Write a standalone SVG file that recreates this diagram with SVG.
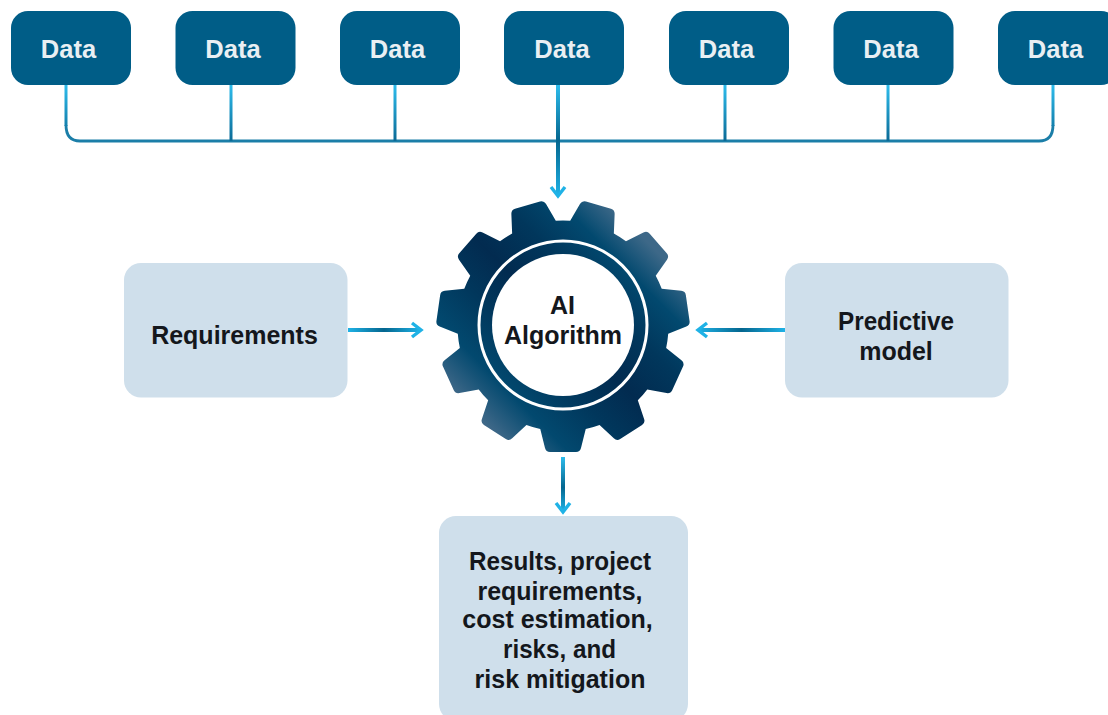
<svg xmlns="http://www.w3.org/2000/svg" xmlns:xlink="http://www.w3.org/1999/xlink" width="1108" height="715" viewBox="0 0 1108 715">
<style>
text{font-family:"Liberation Sans",Arial,sans-serif;font-weight:700;font-size:25px;text-anchor:middle;fill:#14171c}
.data rect{fill:#005d87}
.data text{fill:#e9eff3;font-size:25.500px}
.box{fill:#cfdfeb}
.v{fill:none;stroke-width:3}
.bus{fill:none;stroke:#1b7ea8;stroke-width:2.800}
.arrow{fill:none;stroke-width:4}
.head{fill:none;stroke:#1fb2e6;stroke-width:3.400}
</style>
<defs>
<linearGradient id="vg" gradientUnits="userSpaceOnUse" x1="0" y1="85" x2="0" y2="141"><stop offset="0" stop-color="#2dbcec"/><stop offset="1" stop-color="#0b6a96"/></linearGradient>
<linearGradient id="ca" gradientUnits="userSpaceOnUse" x1="0" y1="85" x2="0" y2="196"><stop offset="0" stop-color="#2dbcec"/><stop offset=".5" stop-color="#04668f"/><stop offset="1" stop-color="#1fb2e6"/></linearGradient>
<linearGradient id="da" gradientUnits="userSpaceOnUse" x1="0" y1="457" x2="0" y2="512"><stop offset="0" stop-color="#2dbcec"/><stop offset=".55" stop-color="#04668f"/><stop offset="1" stop-color="#1fb2e6"/></linearGradient>
<linearGradient id="la" gradientUnits="userSpaceOnUse" x1="348" y1="0" x2="420" y2="0"><stop offset="0" stop-color="#1fb2e6"/><stop offset=".5" stop-color="#04668f"/><stop offset="1" stop-color="#1fb2e6"/></linearGradient>
<linearGradient id="ra" gradientUnits="userSpaceOnUse" x1="785" y1="0" x2="698" y2="0"><stop offset="0" stop-color="#1fb2e6"/><stop offset=".5" stop-color="#04668f"/><stop offset="1" stop-color="#1fb2e6"/></linearGradient>
<linearGradient id="gear" gradientUnits="userSpaceOnUse" x1="463" y1="426" x2="663" y2="226">
<stop offset="0.06" stop-color="#3f6888"/><stop offset=".2" stop-color="#02496f"/><stop offset=".36" stop-color="#01375c"/><stop offset=".5" stop-color="#022b50"/><stop offset=".66" stop-color="#01375c"/><stop offset=".8" stop-color="#02496f"/><stop offset=".92" stop-color="#3d6888"/>
</linearGradient>
<path id="t" d="M-24 98L-18 122Q-17 126 -13 126L13 126Q17 126 18 122L24 98Z"/>
<clipPath id="gc">
<circle cx="563" cy="326" r="105.500"/>
<use xlink:href="#t" href="#t" transform="translate(563 326)"/>
<use xlink:href="#t" href="#t" transform="translate(563 326) rotate(32.727)"/>
<use xlink:href="#t" href="#t" transform="translate(563 326) rotate(65.455)"/>
<use xlink:href="#t" href="#t" transform="translate(563 326) rotate(98.182)"/>
<use xlink:href="#t" href="#t" transform="translate(563 326) rotate(130.909)"/>
<use xlink:href="#t" href="#t" transform="translate(563 326) rotate(163.636)"/>
<use xlink:href="#t" href="#t" transform="translate(563 326) rotate(196.364)"/>
<use xlink:href="#t" href="#t" transform="translate(563 326) rotate(229.091)"/>
<use xlink:href="#t" href="#t" transform="translate(563 326) rotate(261.818)"/>
<use xlink:href="#t" href="#t" transform="translate(563 326) rotate(294.545)"/>
<use xlink:href="#t" href="#t" transform="translate(563 326) rotate(327.273)"/>
</clipPath>
</defs>
<g id="connectors">
<path class="bus" d="M66 125Q66 141 80 141L1039 141Q1053 141 1053 125"/>
<path class="v" stroke="url(#vg)" d="M66 85V126M231 85V141M395 85V141M725 85V141M888 85V141M1053 85V126"/>
<path class="arrow" stroke="url(#ca)" d="M558 85V195"/>
<path class="head" d="M551 187L558 196L565 187"/>
<path class="arrow" stroke="url(#la)" d="M348 330H420"/>
<path class="head" d="M412 323L421 330L412 337"/>
<path class="arrow" stroke="url(#ra)" d="M785 330H699"/>
<path class="head" d="M707 323L698 330L707 337"/>
<path class="arrow" stroke="url(#da)" d="M563 457V511"/>
<path class="head" d="M556 503L563 512L570 503"/>
</g>
<g id="data1" class="data"><rect x="11" y="11" width="120" height="74" rx="17"/><text x="68.500" y="58">Data</text></g>
<g id="data2" class="data"><rect x="175.500" y="11" width="120" height="74" rx="17"/><text x="233" y="58">Data</text></g>
<g id="data3" class="data"><rect x="340" y="11" width="120" height="74" rx="17"/><text x="397.500" y="58">Data</text></g>
<g id="data4" class="data"><rect x="504" y="11" width="120" height="74" rx="17"/><text x="562" y="58">Data</text></g>
<g id="data5" class="data"><rect x="669" y="11" width="120" height="74" rx="17"/><text x="726.500" y="58">Data</text></g>
<g id="data6" class="data"><rect x="833.500" y="11" width="120" height="74" rx="17"/><text x="891" y="58">Data</text></g>
<g id="data7" class="data"><rect x="998" y="11" width="120" height="74" rx="17"/><text x="1055.500" y="58">Data</text></g>
<g id="requirements"><rect class="box" x="124" y="263" width="223.500" height="134.500" rx="17"/><text x="234.500" y="344">Requirements</text></g>
<g id="predictive"><rect class="box" x="785" y="263" width="223.500" height="134.500" rx="17"/><text x="896" y="330" textLength="116" lengthAdjust="spacingAndGlyphs">Predictive</text><text x="896" y="360">model</text></g>
<g id="algorithm">
<rect x="430" y="190" width="270" height="270" fill="url(#gear)" clip-path="url(#gc)"/>
<circle cx="563" cy="325" r="84" fill="none" stroke="#fff" stroke-width="3"/>
<circle cx="563" cy="325" r="71" fill="#fff"/>
<text x="562.500" y="314">AI</text><text x="563" y="344">Algorithm</text>
</g>
<g id="results"><rect class="box" x="439" y="516" width="249" height="205" rx="17"/>
<text x="560" y="570" textLength="182" lengthAdjust="spacingAndGlyphs">Results, project</text>
<text x="560" y="600" textLength="165" lengthAdjust="spacingAndGlyphs">requirements,</text>
<text x="557.500" y="628">cost estimation,</text>
<text x="559.500" y="658" textLength="113" lengthAdjust="spacingAndGlyphs">risks, and</text>
<text x="560" y="688">risk mitigation</text></g>
</svg>
